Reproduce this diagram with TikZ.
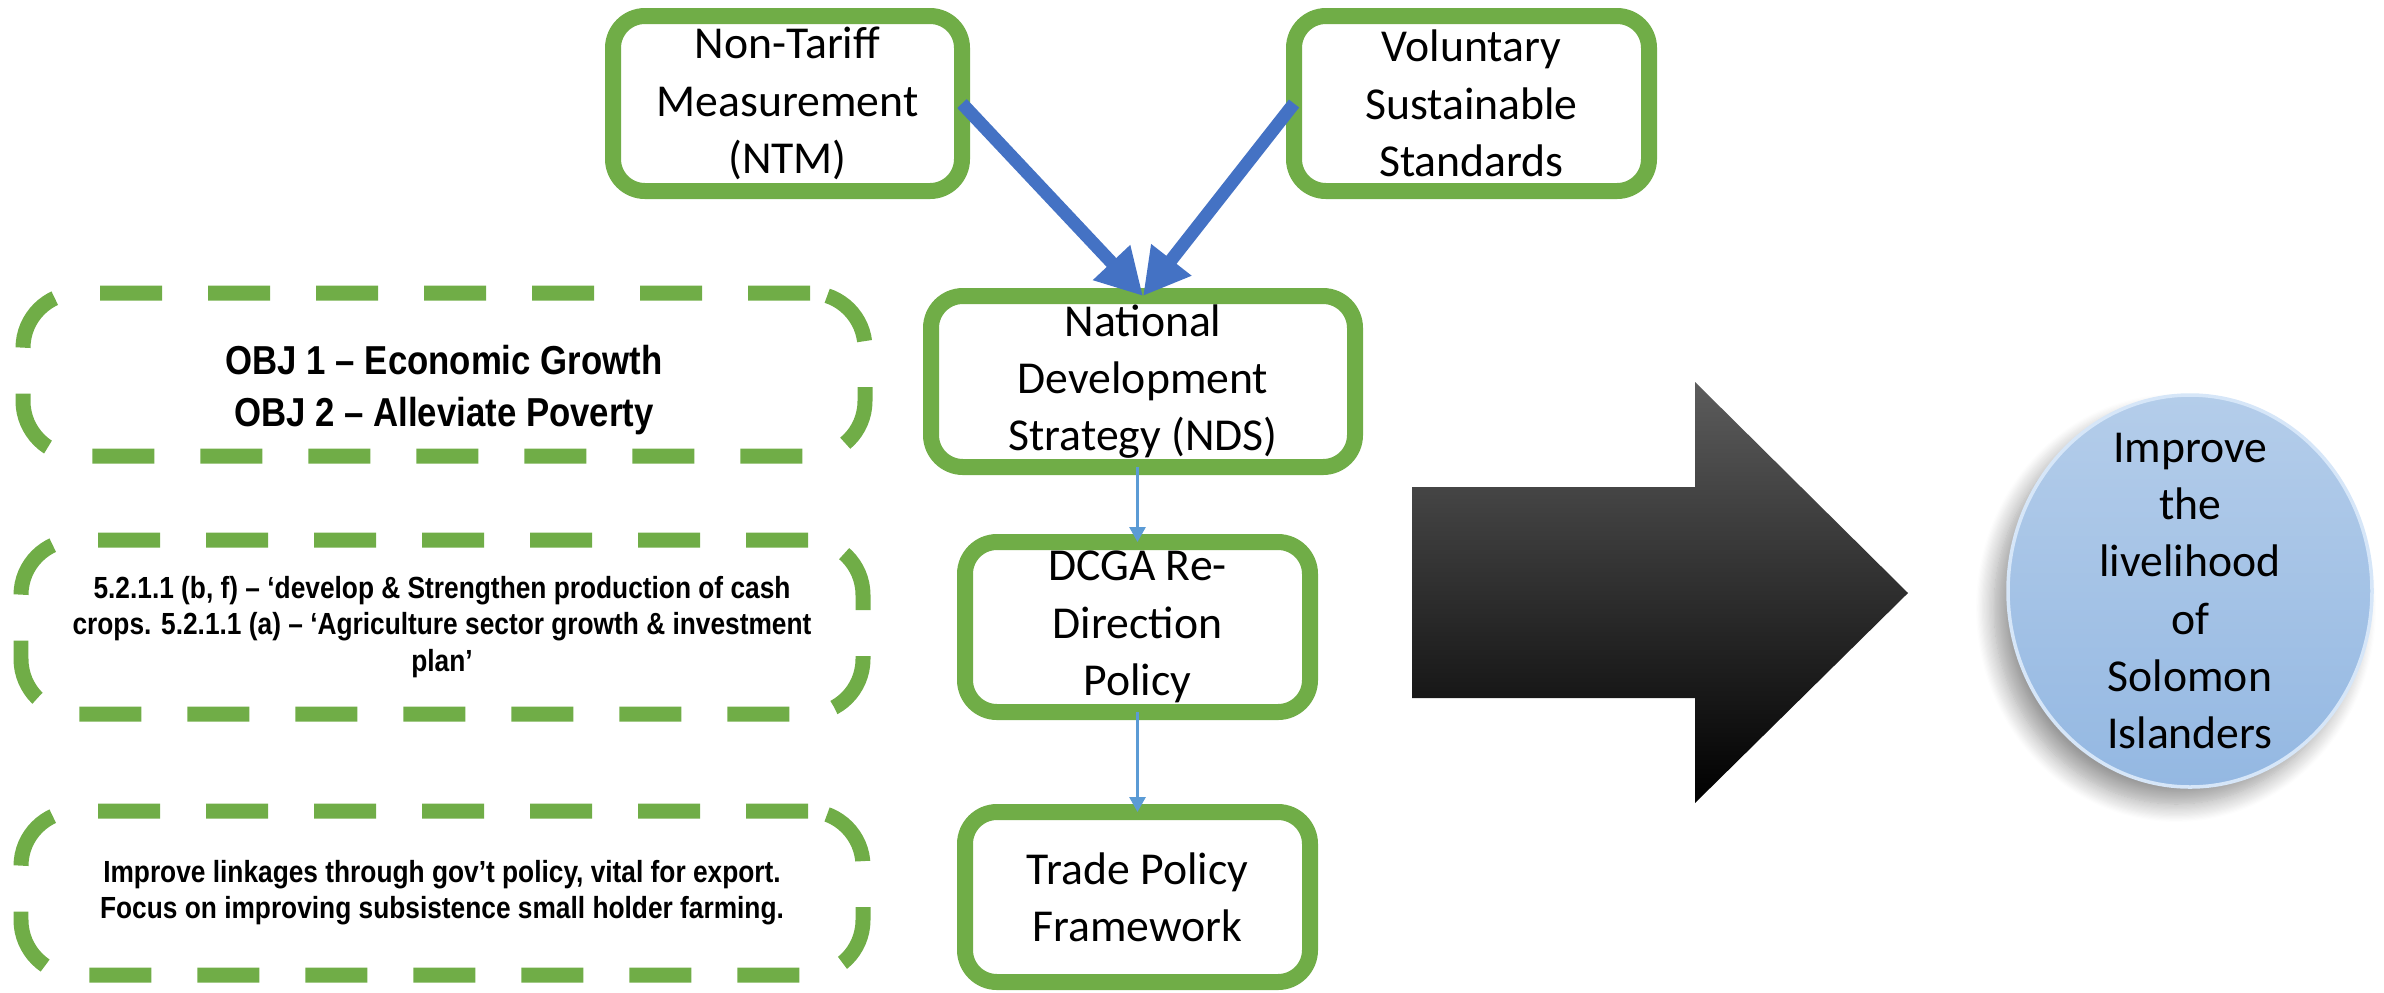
\documentclass[tikz,border=0pt]{standalone}
\usepackage{fontspec}
\setmainfont{Carlito}
\newfontfamily\narrowfont[FakeStretch=0.86]{Liberation Sans}
\usetikzlibrary{positioning, arrows.meta, shapes.geometric, shadows.blur}

\definecolor{boxgreen}{RGB}{112,173,71}
\definecolor{arrowblue}{RGB}{68,114,196}
\definecolor{linkblue}{RGB}{91,155,213}
\definecolor{goaltop}{RGB}{180,205,234}
\definecolor{goalbot}{RGB}{148,184,226}
\definecolor{goalrim}{RGB}{214,230,248}
\definecolor{blocktop}{RGB}{92,92,92}
\definecolor{blockmid}{RGB}{14,14,14}

\begin{document}
\begin{tikzpicture}[
    % Solid box style - thick green rounded frame
    solidbox/.style={
        rectangle,
        rounded corners=0.32cm,
        draw=boxgreen,
        line width=0.16cm,
        fill=white,
        inner sep=0pt,
        outer sep=0pt,
        align=center,
        font=\fontsize{13}{16.3}\selectfont
    },
    % Objective box style - dashed green frame
    objbox/.style={
        rectangle,
        rounded corners=0.55cm,
        draw=boxgreen,
        line width=0.15cm,
        dash pattern=on 0.62cm off 0.46cm,
        minimum width=8.42cm,
        align=center,
        font=\narrowfont\bfseries\fontsize{8.7}{10.3}\selectfont
    },
    % Thick arrow style - into the strategy box
    bigarrow/.style={
        -{Triangle[length=0.46cm, width=0.48cm]},
        draw=arrowblue,
        line width=0.13cm
    },
    % Thin arrow style - down the policy chain
    arrow/.style={
        -{Triangle[length=0.15cm, width=0.16cm]},
        draw=linkblue,
        line width=0.8pt
    },
    % Goal style - shaded ellipse with shadow
    goal/.style={
        ellipse,
        minimum width=3.64cm,
        minimum height=3.92cm,
        top color=goaltop,
        bottom color=goalbot,
        draw=goalrim,
        line width=1pt,
        blur shadow={shadow xshift=-0.14cm, shadow yshift=-0.17cm,
                     shadow blur radius=0.18cm, shadow blur steps=16,
                     shadow opacity=40}
    },
    % Goal text style
    goaltext/.style={
        align=center,
        inner sep=0pt,
        font=\fontsize{13}{16.3}\selectfont
    }
]
\useasboundingbox (0,0) rectangle (23.84,-9.92);

% === Inputs (top) ===
\node[solidbox, minimum width=3.49cm, minimum height=1.75cm]
      (ntm) at (7.875,-1.035) {Non-Tariff\\Measurement\\(NTM)};
\node[solidbox, minimum width=3.55cm, minimum height=1.75cm]
      (vss) at (14.715,-1.035) {Voluntary\\Sustainable\\Standards};

% === Policy chain (centre) ===
\node[solidbox, minimum width=4.24cm, minimum height=1.71cm]
      (nds) at (11.43,-3.815) {National\\Development\\Strategy (NDS)};
\node[solidbox, minimum width=3.45cm, minimum height=1.70cm]
      (dcga) at (11.375,-6.27) {DCGA Re-\\Direction\\Policy};
\node[solidbox, minimum width=3.45cm, minimum height=1.70cm]
      (tpf) at (11.375,-8.97) {Trade Policy\\Framework};

% === Objectives (left) ===
\node[objbox, minimum height=1.63cm,
      font=\narrowfont\bfseries\fontsize{11.5}{14.8}\selectfont]
      (obj1) at (4.44,-3.745) {\rule{0pt}{17pt}OBJ 1 – Economic Growth\\OBJ 2 – Alleviate Poverty};
\node[objbox, minimum height=1.74cm]
      (obj2) at (4.42,-6.27) {5.2.1.1 (b, f) – ‘develop \& Strengthen production of cash\\crops. 5.2.1.1 (a) – ‘Agriculture sector growth \& investment\\plan’};
\node[objbox, minimum height=1.64cm]
      (obj3) at (4.42,-8.93) {Improve linkages through gov’t policy, vital for export.\\Focus on improving subsistence small holder farming.};

% === Arrows ===
\draw[bigarrow] (ntm.east) -- (nds.north);
\draw[bigarrow] (vss.west) -- (nds.north);
\draw[arrow] (dcga.north |- nds.south) -- (dcga.north);
\draw[arrow] (dcga.south) -- (tpf.north);

% === Block arrow ===
\shade[top color=blocktop, middle color=blockmid, bottom color=black]
    (14.12,-4.87) -- (16.95,-4.87) -- (16.95,-3.82) -- (19.08,-5.93)
    -- (16.95,-8.03) -- (16.95,-6.98) -- (14.12,-6.98) -- cycle;

% === Goal (right) ===
\node[goal] (goal) at (21.90,-5.91) {};
\node[goaltext] (goallbl) at (goal.center) {Improve\\the\\livelihood\\of\\Solomon\\Islanders};

\end{tikzpicture}
\end{document}
